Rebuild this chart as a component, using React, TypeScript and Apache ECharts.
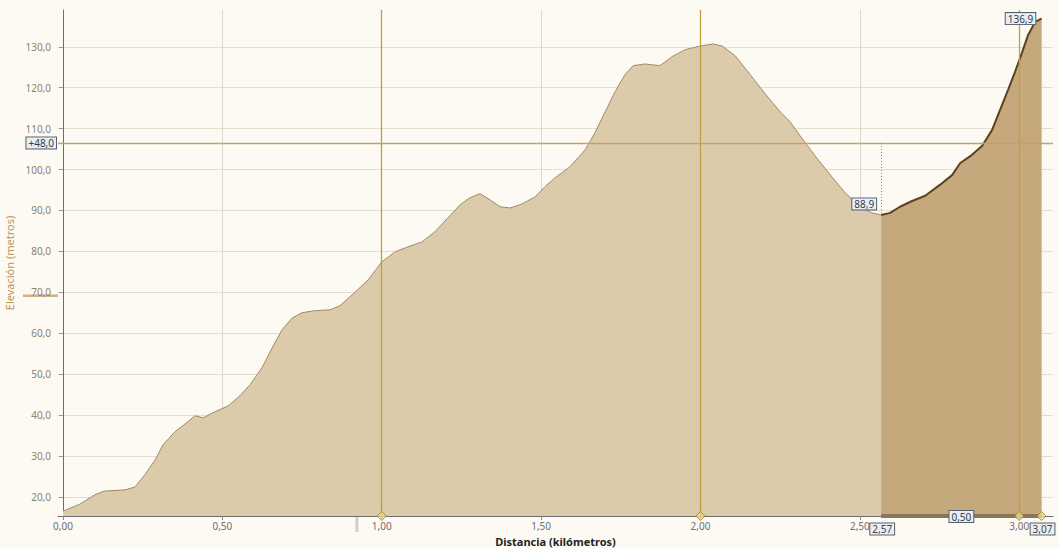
import React, { useEffect, useRef } from "react";
import * as echarts from "echarts";

// Profile: distance (km) and elevation (m)
const distKm = [
  0, 0.053, 0.1, 0.13, 0.195, 0.226, 0.257, 0.289, 0.314, 0.351, 0.383, 0.414, 0.44, 0.477,
  0.518, 0.555, 0.587, 0.624, 0.656, 0.687, 0.719, 0.75, 0.79, 0.838, 0.869, 0.916, 0.957,
  1.0, 1.042, 1.089, 1.126, 1.167, 1.208, 1.246, 1.277, 1.308, 1.34, 1.371, 1.403, 1.44,
  1.481, 1.512, 1.544, 1.591, 1.638, 1.669, 1.701, 1.732, 1.763, 1.789, 1.826, 1.873, 1.911,
  1.952, 2.0, 2.04, 2.068, 2.109, 2.156, 2.203, 2.25, 2.281, 2.313, 2.36, 2.407, 2.454,
  2.501, 2.538, 2.567, 2.595, 2.626, 2.664, 2.705, 2.752, 2.79, 2.815, 2.852, 2.884, 2.915,
  2.94, 2.965, 2.987, 3.003, 3.028, 3.05, 3.07,
];
const elevM = [
  16.5, 18.2, 20.5, 21.4, 21.7, 22.4, 25.4, 29.0, 32.7, 35.9, 37.8, 39.8, 39.3, 40.8,
  42.2, 44.7, 47.4, 51.5, 56.4, 60.8, 63.7, 65.0, 65.5, 65.7, 66.7, 70.0, 73.0,
  77.4, 79.9, 81.3, 82.3, 84.8, 88.2, 91.4, 93.1, 94.1, 92.6, 90.9, 90.6, 91.6,
  93.3, 95.8, 98.0, 100.7, 104.8, 109.0, 114.1, 119.0, 123.2, 125.4, 125.8, 125.4, 127.6,
  129.3, 130.2, 130.7, 130.2, 127.8, 123.2, 118.5, 114.1, 111.7, 108.2, 103.3, 98.7, 94.3,
  90.9, 89.4, 88.9, 89.4, 90.9, 92.3, 93.6, 96.3, 98.7, 101.6, 103.6, 105.8, 109.7,
  114.6, 119.5, 123.9, 127.3, 132.9, 136.1, 136.9,
];

const xTicks = [0, 0.5, 1, 1.5, 2, 2.5, 3];
const yTicks = [20, 30, 40, 50, 60, 70, 80, 90, 100, 110, 120, 130];
const goldLinesKm = [1, 2, 3];
const diamondsKm = [1, 2, 3, 3.07];

const selStartKm = 2.567;
const selEndKm = 3.07;
const selStartElev = 88.9;
const selEndElev = 136.9;
const selStartLabel = "88,9";
const selEndLabel = "136,9";
const selLengthLabel = "0,50";
const selStartKmLabel = "2,57";
const selEndKmLabel = "3,07";
const refElev = 106.5;
const refLabel = "+48,0";
const leftMarkElev = 69.2;
const bottomMarkKm = 0.922;

const xMin = -0.0157;
const xMax = 3.106;
const yMin = 15.3;
const yMax = 139;

const FONT = "'Noto Sans', 'DejaVu Sans', sans-serif";

const boxLabel = {
  show: true,
  fontSize: 10,
  fontFamily: FONT,
  color: "#2e3f55",
  backgroundColor: "#eaeef2",
  borderColor: "#56606c",
  borderWidth: 1,
  padding: [1, 2, 0, 2],
};

export default function App() {
  const ref = useRef<HTMLDivElement>(null);

  useEffect(() => {
    if (!ref.current) return;
    const chart = echarts.init(ref.current, null, { renderer: "svg" });

    const profile = distKm.map((d, i) => [d, elevM[i]]);
    const selection = profile.filter((p) => p[0] >= selStartKm && p[0] <= selEndKm);

    chart.setOption({
      animation: false,
      backgroundColor: "#fdfaf3",
      grid: { left: 58, right: 6, top: 10, bottom: 32, containLabel: false, outerBoundsMode: "none" },
      xAxis: {
        type: "value",
        min: xMin,
        max: xMax,
        name: "Distancia (kilómetros)",
        nameLocation: "middle",
        nameGap: 16,
        nameTextStyle: { fontSize: 11, fontWeight: "bold", color: "#222", fontFamily: FONT },
        axisLine: { show: true, lineStyle: { color: "#6c6c6c", width: 1 } },
        axisTick: { show: true, length: 4, lineStyle: { color: "#888" }, customValues: xTicks },
        axisLabel: {
          customValues: xTicks,
          fontSize: 10,
          fontFamily: FONT,
          color: "#707070",
          margin: 5,
          formatter: (v: number) => v.toFixed(2).replace(".", ","),
        },
        splitLine: { show: true, lineStyle: { color: "#ddd8cd", width: 1 } },
      },
      yAxis: {
        type: "value",
        min: yMin,
        max: yMax,
        name: "Elevación (metros)",
        nameLocation: "middle",
        nameGap: 39,
        nameTextStyle: { fontSize: 11, color: "#b8955a", fontFamily: FONT },
        axisLine: { show: true, lineStyle: { color: "#6c6c6c", width: 1 } },
        axisTick: { show: true, length: 4, lineStyle: { color: "#999" }, customValues: yTicks },
        axisLabel: {
          customValues: yTicks,
          fontSize: 10,
          fontFamily: FONT,
          color: "#8c8270",
          margin: 7,
          formatter: (v: number) => v.toFixed(1).replace(".", ","),
        },
        splitLine: { show: true, lineStyle: { color: "#e3ded3", width: 1 } },
      },
      series: [
        {
          type: "line",
          data: profile,
          symbol: "none",
          lineStyle: { color: "#a08a66", width: 1 },
          areaStyle: { color: "#dccbab", opacity: 1, origin: "start" },
          z: 2,
          markLine: {
            silent: true,
            symbol: "none",
            data: [
              ...goldLinesKm.map((k) => ({
                xAxis: k,
                lineStyle: { color: "#bfa03a", width: 1.3, type: "solid" },
                label: { show: false },
              })),
              {
                yAxis: refElev,
                lineStyle: { color: "#c9a064", width: 1.3, type: "solid" },
                label: { ...boxLabel, position: "start", formatter: refLabel, distance: 2 },
              },
              [
                {
                  coord: [selStartKm, refElev],
                  lineStyle: { color: "#7d8898", width: 1, type: [1, 2] },
                  label: { show: false },
                },
                { coord: [selStartKm, selStartElev] },
              ],
            ],
          },
        },
        {
          type: "line",
          data: selection,
          symbol: "none",
          lineStyle: { color: "#5e421e", width: 2 },
          areaStyle: { color: "#c5a87b", opacity: 1, origin: "start" },
          z: 3,
          markLine: {
            silent: true,
            symbol: "none",
            data: [
              [
                {
                  coord: [selStartKm, yMin],
                  lineStyle: { color: "#8a7658", width: 4, type: "solid" },
                  label: { ...boxLabel, position: "middle", formatter: selLengthLabel, distance: -6 },
                },
                { coord: [selEndKm, yMin] },
              ],
            ],
          },
          markPoint: {
            silent: true,
            symbol: "rect",
            symbolSize: 0,
            data: [
              {
                coord: [selStartKm, selStartElev],
                label: { ...boxLabel, formatter: selStartLabel, offset: [-17, -11] },
              },
              {
                coord: [selEndKm, selEndElev],
                label: { ...boxLabel, formatter: selEndLabel, offset: [-21, 0] },
              },
              {
                coord: [selStartKm, yMin],
                label: { ...boxLabel, color: "#444", formatter: selStartKmLabel, offset: [1, 13] },
              },
              {
                coord: [selEndKm, yMin],
                label: { ...boxLabel, color: "#444", formatter: selEndKmLabel, offset: [1, 13] },
              },
            ],
          },
        },
        {
          type: "scatter",
          data: diamondsKm.map((k) => [k, yMin]),
          symbol: "diamond",
          symbolSize: 9,
          clip: false,
          itemStyle: { color: "#ead78e", borderColor: "#9a8030", borderWidth: 1 },
          z: 5,
          silent: true,
        },
      ],
    });

    const pLeft = chart.convertToPixel({ xAxisIndex: 0, yAxisIndex: 0 }, [xMin, leftMarkElev]) as number[];
    const pBottom = chart.convertToPixel({ xAxisIndex: 0, yAxisIndex: 0 }, [bottomMarkKm, yMin]) as number[];
    chart.setOption({
      graphic: [
        {
          type: "rect",
          shape: { x: pLeft[0] - 35, y: pLeft[1] - 1, width: 35, height: 2.5 },
          style: { fill: "#cfb48a" },
          silent: true,
        },
        {
          type: "rect",
          shape: { x: pBottom[0] - 1.5, y: pBottom[1] + 1, width: 3, height: 15 },
          style: { fill: "#cfcfcf" },
          silent: true,
        },
      ],
    });

    return () => chart.dispose();
  }, []);

  return (
    <div
      ref={ref}
      style={{ position: "fixed", left: 0, top: 0, width: 1059, height: 548 }}
    />
  );
}
